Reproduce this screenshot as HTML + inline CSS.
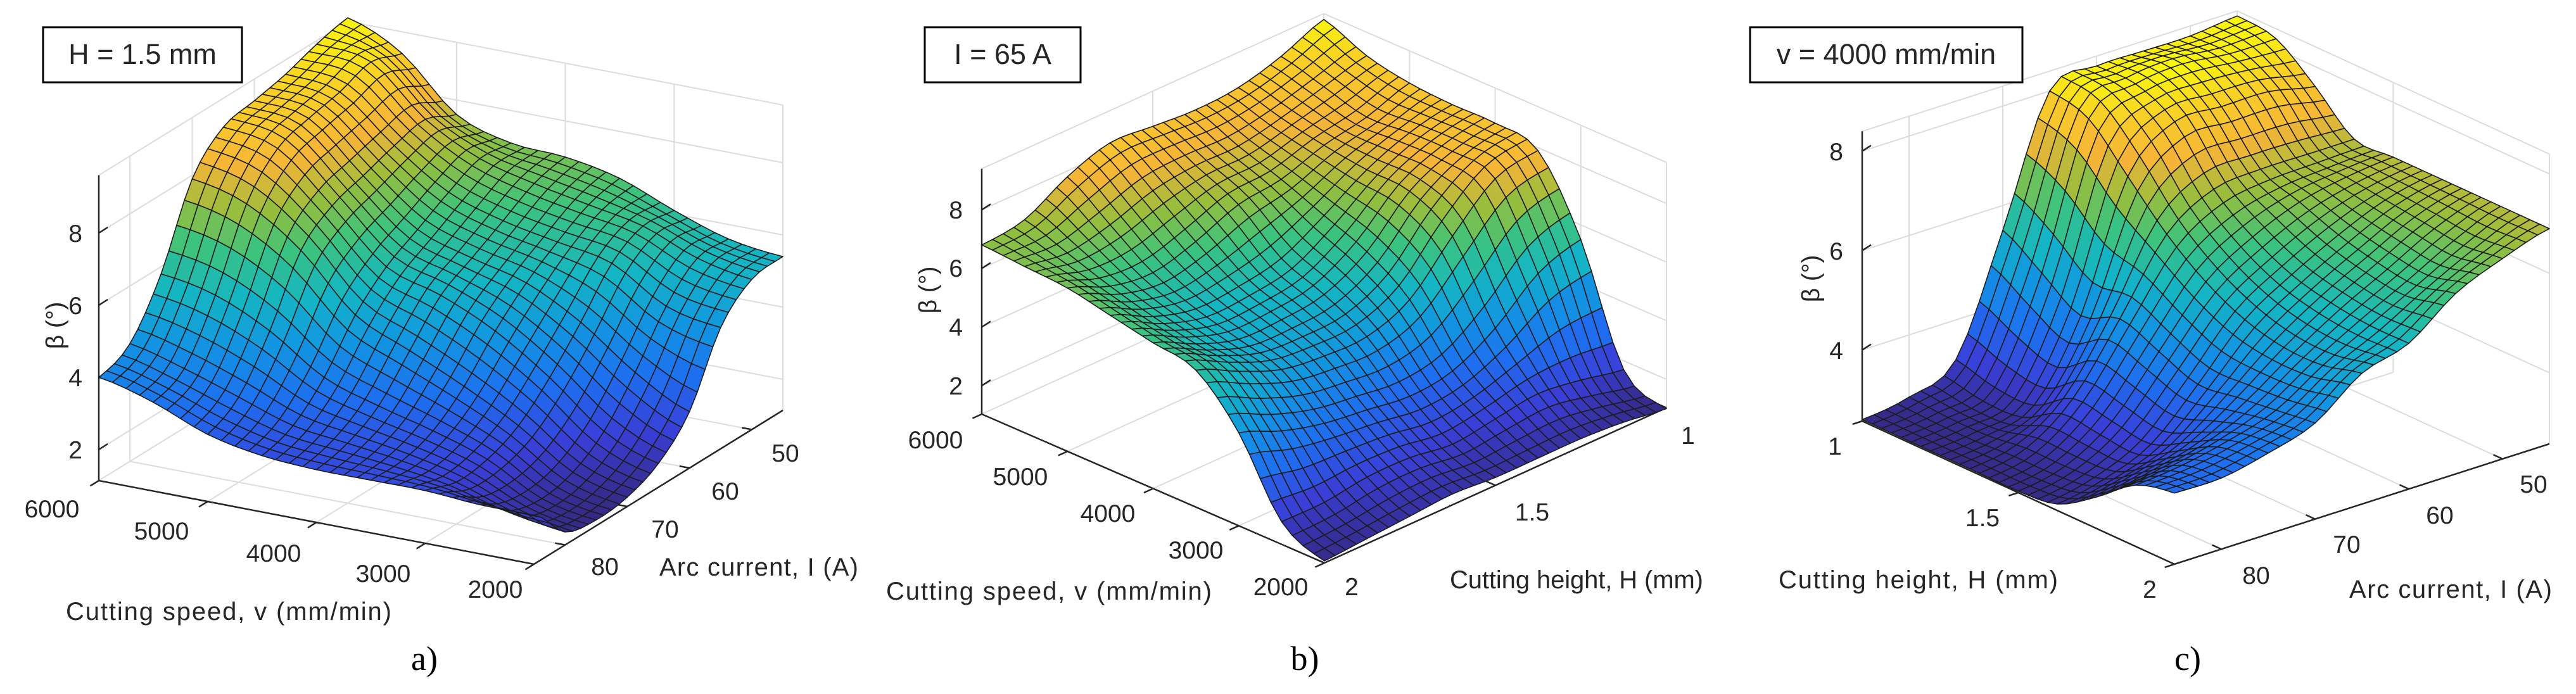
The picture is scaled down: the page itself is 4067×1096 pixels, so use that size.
<!DOCTYPE html>
<html><head><meta charset="utf-8"><style>
html,body{margin:0;padding:0;background:#fff;}
svg{display:block;}
text{font-family:"Liberation Sans",sans-serif;fill:#262626;}
.serif{font-family:"Liberation Serif",serif;fill:#000;}
</style></head><body>
<svg id="fig" width="4067" height="1096" viewBox="0 0 4067 1096" xmlns="http://www.w3.org/2000/svg">
<rect width="4067" height="1096" fill="#fff"/>
<g id="pa"></g>
<g id="pb"></g>
<g id="pc"></g>
<g>
<!-- panel a -->
<rect x="68" y="43" width="314" height="87" fill="#fff" stroke="#000" stroke-width="3"/>
<text x="225" y="101" font-size="45" text-anchor="middle" fill="#000">H = 1.5 mm</text>
<text x="130" y="382" font-size="39" text-anchor="end">8</text>
<text x="130" y="496" font-size="39" text-anchor="end">6</text>
<text x="130" y="610" font-size="39" text-anchor="end">4</text>
<text x="130" y="724" font-size="39" text-anchor="end">2</text>
<text x="0" y="0" font-size="39" text-anchor="middle" transform="translate(100,514) rotate(-90)">β (°)</text>
<text x="82" y="817" font-size="39" text-anchor="middle">6000</text>
<text x="255" y="852" font-size="39" text-anchor="middle">5000</text>
<text x="432" y="887" font-size="39" text-anchor="middle">4000</text>
<text x="605" y="919" font-size="39" text-anchor="middle">3000</text>
<text x="782" y="944" font-size="39" text-anchor="middle">2000</text>
<text x="104" y="979" font-size="40" textLength="514">Cutting speed, v (mm/min)</text>
<text x="1240" y="729" font-size="39" text-anchor="middle">50</text>
<text x="1145" y="789" font-size="39" text-anchor="middle">60</text>
<text x="1050" y="849" font-size="39" text-anchor="middle">70</text>
<text x="955" y="908" font-size="39" text-anchor="middle">80</text>
<text x="1041" y="909" font-size="40" textLength="314">Arc current, I (A)</text>
<text x="670" y="1058" font-size="54" text-anchor="middle" class="serif">a)</text>
<!-- panel b -->
<rect x="1460" y="43" width="246" height="87" fill="#fff" stroke="#000" stroke-width="3"/>
<text x="1583" y="101" font-size="45" text-anchor="middle" fill="#000">I = 65 A</text>
<text x="1520" y="345" font-size="39" text-anchor="end">8</text>
<text x="1520" y="437" font-size="39" text-anchor="end">6</text>
<text x="1520" y="530" font-size="39" text-anchor="end">4</text>
<text x="1520" y="623" font-size="39" text-anchor="end">2</text>
<text x="0" y="0" font-size="39" text-anchor="middle" transform="translate(1478,458) rotate(-90)">β (°)</text>
<text x="1477" y="708" font-size="39" text-anchor="middle">6000</text>
<text x="1611" y="766" font-size="39" text-anchor="middle">5000</text>
<text x="1749" y="824" font-size="39" text-anchor="middle">4000</text>
<text x="1888" y="882" font-size="39" text-anchor="middle">3000</text>
<text x="2022" y="940" font-size="39" text-anchor="middle">2000</text>
<text x="1399" y="947" font-size="40" textLength="514">Cutting speed, v (mm/min)</text>
<text x="2134" y="940" font-size="39" text-anchor="middle">2</text>
<text x="2419" y="822" font-size="39" text-anchor="middle">1.5</text>
<text x="2665" y="701" font-size="39" text-anchor="middle">1</text>
<text x="2289" y="929" font-size="40" textLength="400">Cutting height, H (mm)</text>
<text x="2060" y="1058" font-size="54" text-anchor="middle" class="serif">b)</text>
<!-- panel c -->
<rect x="2763" y="43" width="430" height="87" fill="#fff" stroke="#000" stroke-width="3"/>
<text x="2978" y="101" font-size="45" text-anchor="middle" fill="#000">v = 4000 mm/min</text>
<text x="2910" y="253" font-size="39" text-anchor="end">8</text>
<text x="2910" y="410" font-size="39" text-anchor="end">6</text>
<text x="2910" y="567" font-size="39" text-anchor="end">4</text>
<text x="0" y="0" font-size="39" text-anchor="middle" transform="translate(2872,440) rotate(-90)">β (°)</text>
<text x="2897" y="718" font-size="39" text-anchor="middle">1</text>
<text x="3130" y="831" font-size="39" text-anchor="middle">1.5</text>
<text x="3394" y="944" font-size="39" text-anchor="middle">2</text>
<text x="2808" y="929" font-size="40" textLength="441">Cutting height, H (mm)</text>
<text x="4000" y="778" font-size="39" text-anchor="middle">50</text>
<text x="3852" y="827" font-size="39" text-anchor="middle">60</text>
<text x="3705" y="873" font-size="39" text-anchor="middle">70</text>
<text x="3562" y="922" font-size="39" text-anchor="middle">80</text>
<text x="3709" y="944" font-size="40" textLength="320">Arc current, I (A)</text>
<text x="3454" y="1058" font-size="54" text-anchor="middle" class="serif">c)</text>
</g>
</svg>
<script>
// ---- data (beta in degrees), rows along first horizontal axis, cols along second ----
// panel a: rows v = 6000 -> 2000, cols I = 85 -> 45
const gridA = [
 [4.0,4.4,5.8,7.9,8.8,9.0,9.2,9.5,9.7],
 [3.6,4.0,5.5,7.5,8.5,8.8,9.0,9.3,9.0],
 [3.0,3.5,4.8,6.5,7.2,7.5,7.8,8.0,7.6],
 [2.7,3.0,3.8,5.0,5.8,6.3,6.8,7.2,7.1],
 [2.6,2.8,3.3,4.3,5.3,5.8,6.3,6.8,7.0],
 [2.6,2.6,2.9,3.6,4.6,5.4,6.0,6.5,6.7],
 [2.6,2.3,2.4,2.8,3.6,4.6,5.7,6.2,6.1],
 [2.5,1.8,1.6,1.8,2.4,3.5,4.8,5.6,5.6],
 [2.5,1.5,1.3,1.4,1.8,2.7,4.5,5.3,5.4]
];
// panel b: rows v = 6000 -> 2000, cols H = 2 -> 1
const gridB = [
 [6.8,7.0,7.8,8.3,8.2,8.1,8.2,8.6,9.2],
 [6.7,6.5,6.8,7.3,7.5,7.5,7.8,8.2,8.6],
 [6.6,6.0,5.8,6.2,6.8,7.0,7.5,7.8,8.3],
 [6.3,5.6,5.2,5.3,5.6,6.4,7.3,7.9,8.2],
 [6.0,5.3,4.8,4.8,5.0,5.8,7.2,7.9,8.2],
 [5.7,5.0,4.4,4.2,4.2,4.8,6.3,7.6,7.9],
 [4.2,3.6,3.2,3.0,2.8,3.0,3.8,5.0,5.5],
 [1.8,1.8,2.0,2.0,1.8,2.0,2.2,2.0,1.7],
 [1.1,1.2,1.3,1.4,1.3,1.3,1.3,1.2,1.0]
];
// panel c: rows H = 1 -> 2, cols I = 85 -> 45
const gridC = [
 [2.6,2.75,3.2,5.5,8.0,8.2,8.2,8.2,8.3],
 [2.6,2.7,3.0,5.0,7.8,8.2,8.3,8.2,8.2],
 [2.6,2.7,3.0,4.5,7.0,7.8,7.8,7.8,7.6],
 [2.6,2.8,3.5,4.8,6.2,6.8,6.9,6.9,6.9],
 [2.6,2.8,3.4,4.5,5.6,6.2,6.6,6.8,6.9],
 [2.7,2.9,3.3,4.2,5.2,5.8,6.3,6.7,6.9],
 [3.2,3.4,3.7,4.3,5.0,5.6,6.1,6.6,6.9],
 [3.8,3.9,4.1,4.4,5.0,5.5,6.0,6.5,6.9],
 [4.0,4.0,4.2,4.5,5.2,5.5,6.2,6.6,6.9]
];
const zTicksA = [2,4,6,8];
const zTicksB = [2,4,6,8];
const zTicksC = [4,6,8];
const vTicks = [6000,5000,4000,3000,2000];
const iTicks = [80,70,60,50];
const hTicks = [2,1.5,1];
const hTicksC = [1,1.5,2];

// ---- geometry ----
const NS='http://www.w3.org/2000/svg';
const panels = [
 {id:'pa', grid:gridA, L:[156,759], F:[843,891], R:[1236,648], zb:1.14, zs:57, zt:9.6, zTicks:zTicksA,
  uDom:[6000,2000], uTicks:vTicks, wDom:[85,45], wTicks:iTicks},
 {id:'pb', grid:gridB, L:[1550,654], F:[2091,889], R:[2631,644], zb:1.03, zs:46.3, zt:9.4, zTicks:zTicksB,
  uDom:[6000,2000], uTicks:vTicks, wDom:[2,1], wTicks:hTicks},
 {id:'pc', grid:gridC, L:[2940,665], F:[3433,891], R:[4025,701], zb:2.57, zs:78.5, zt:8.4, zTicks:zTicksC,
  uDom:[1,2], uTicks:hTicksC, wDom:[85,45], wTicks:iTicks}
];

const stops=[[0,[53,42,135]],[0.12,[58,62,215]],[0.25,[30,110,240]],[0.38,[18,150,225]],[0.5,[20,182,195]],[0.62,[60,195,125]],[0.72,[150,190,60]],[0.82,[245,180,55]],[0.92,[248,205,40]],[1,[249,245,14]]];
function parula(t){t=Math.max(0,Math.min(1,t));for(let i=1;i<stops.length;i++){if(t<=stops[i][0]){const a=stops[i-1],b=stops[i];const f=(t-a[0])/(b[0]-a[0]);const c=a[1].map((v,k)=>Math.round(v+(b[1][k]-v)*f));return 'rgb('+c.join(',')+')';}}return 'rgb(249,245,14)';}
function cr(p0,p1,p2,p3,t){return 0.5*((2*p1)+(-p0+p2)*t+(2*p0-5*p1+4*p2-p3)*t*t+(-p0+3*p1-3*p2+p3)*t*t*t);}
function row(r,w){const n=r.length-1;let f=w*n;let i=Math.min(Math.floor(f),n-1);const t=f-i;const g=k=>r[Math.max(0,Math.min(n,k))];return cr(g(i-1),g(i),g(i+1),g(i+2),t);}
function sample(G,u,w){const n=G.length-1;let f=u*n;let i=Math.min(Math.floor(f),n-1);const t=f-i;const g=k=>row(G[Math.max(0,Math.min(n,k))],w);return cr(g(i-1),g(i),g(i+1),g(i+2),t);}

panels.forEach(P=>{
 const g=document.getElementById(P.id);
 const proj=(u,w,z)=>[P.L[0]+u*(P.F[0]-P.L[0])+w*(P.R[0]-P.F[0]), P.L[1]+u*(P.F[1]-P.L[1])+w*(P.R[1]-P.F[1])-(z-P.zb)*P.zs];
 const uOf=v=>(v-P.uDom[0])/(P.uDom[1]-P.uDom[0]);
 const wOf=v=>(v-P.wDom[0])/(P.wDom[1]-P.wDom[0]);
 function line(a,b,col,sw,name){const l=document.createElementNS(NS,'line');
  l.setAttribute('x1',a[0].toFixed(1));l.setAttribute('y1',a[1].toFixed(1));l.setAttribute('x2',b[0].toFixed(1));l.setAttribute('y2',b[1].toFixed(1));
  l.setAttribute('stroke',col);l.setAttribute('stroke-width',sw);
  
  
  g.appendChild(l);}
 const gc='#dcdcdc';
 // back walls & floor grid
 P.zTicks.forEach(z=>{line(proj(0,0,z),proj(0,1,z),gc,2,'wall-gridline-z');line(proj(0,1,z),proj(1,1,z),gc,2,'wall-gridline-z');});
 P.wTicks.forEach(v=>{const w=wOf(v);line(proj(0,w,P.zb),proj(0,w,P.zt),gc,2,'wall-gridline-w');line(proj(0,w,P.zb),proj(1,w,P.zb),gc,2,'floor-gridline-w');});
 P.uTicks.forEach(v=>{const u=uOf(v);line(proj(u,1,P.zb),proj(u,1,P.zt),gc,2,'wall-gridline-u');line(proj(u,0,P.zb),proj(u,1,P.zb),gc,2,'floor-gridline-u');});
 line(proj(0,1,P.zb),proj(0,1,P.zt),gc,2,'wall-edge');line(proj(1,1,P.zb),proj(1,1,P.zt),gc,2,'wall-edge');
 line(proj(0,0,P.zt),proj(0,1,P.zt),gc,2,'wall-edge');line(proj(0,1,P.zt),proj(1,1,P.zt),gc,2,'wall-edge');
 // axes
 const ac='#262626';
 line(proj(0,0,P.zb),proj(0,0,P.zt),ac,2.5,'z-axis');
 line(proj(0,0,P.zb),proj(1,0,P.zb),ac,2.5,'u-axis');
 line(proj(1,0,P.zb),proj(1,1,P.zb),ac,2.5,'w-axis');
 P.zTicks.forEach(z=>{const p=proj(0,0,z);line(p,[p[0]+14,p[1]-9],ac,2.5,'z-tick');});
 P.uTicks.forEach(v=>{const p=proj(uOf(v),0,P.zb);const d=[P.F[0]-P.R[0],P.F[1]-P.R[1]];const m=Math.hypot(d[0],d[1]);line(p,[p[0]+d[0]/m*16,p[1]+d[1]/m*16],ac,2.5,'u-tick');});
 P.wTicks.forEach(v=>{const p=proj(1,wOf(v),P.zb);const d=[P.L[0]-P.F[0],P.L[1]-P.F[1]];const m=Math.hypot(d[0],d[1]);line(p,[p[0]+d[0]/m*16,p[1]+d[1]/m*16],ac,2.5,'w-tick');});
 // surface
 const N=32;
 let zmin=Infinity,zmax=-Infinity;P.grid.forEach(r=>r.forEach(v=>{zmin=Math.min(zmin,v);zmax=Math.max(zmax,v);}));
 const Z=[];for(let i=0;i<=N;i++){Z.push([]);for(let j=0;j<=N;j++)Z[i].push(sample(P.grid,i/N,j/N));}
 const quads=[];
 for(let i=0;i<N;i++)for(let j=0;j<N;j++)quads.push([i,j,(i-j)]);
 quads.sort((a,b)=>a[2]-b[2]);
 const sg=document.createElementNS(NS,'g');
 
 
 g.appendChild(sg);
 quads.forEach(([i,j])=>{
  const pts=[[i,j],[i+1,j],[i+1,j+1],[i,j+1]].map(([a,b])=>proj(a/N,b/N,Z[a][b]));
  const zm=(Z[i][j]+Z[i+1][j]+Z[i+1][j+1]+Z[i][j+1])/4;
  const p=document.createElementNS(NS,'polygon');
  p.setAttribute('points',pts.map(q=>q[0].toFixed(1)+','+q[1].toFixed(1)).join(' '));
  p.setAttribute('fill',parula((zm-zmin)/(zmax-zmin)));
  p.setAttribute('stroke','#1c1c1c');p.setAttribute('stroke-width','1.6');p.setAttribute('stroke-linejoin','round');
  
  
  sg.appendChild(p);
 });
});
</script>
</body></html>
